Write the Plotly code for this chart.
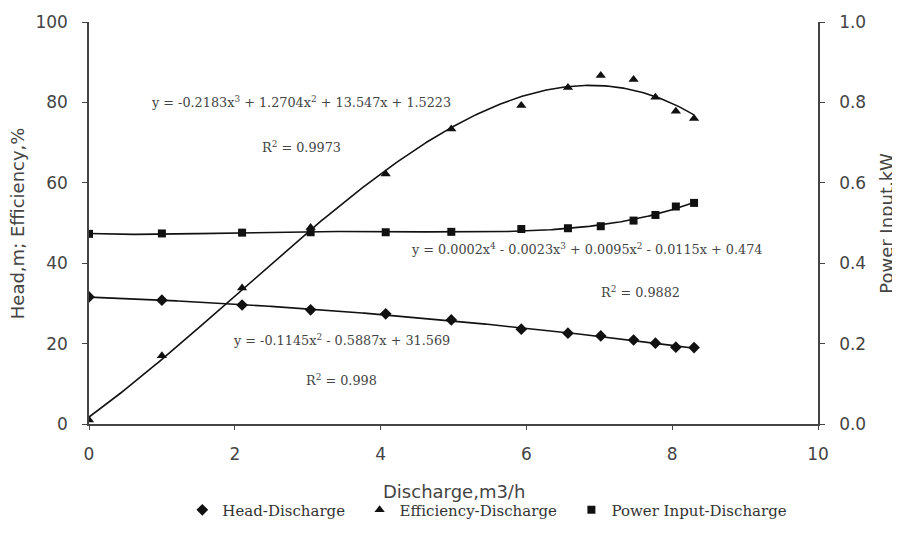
import numpy as np
import plotly.graph_objects as go

# ---- data ----
discharge = [0.0, 1.0, 2.1, 3.04, 4.07, 4.97, 5.93, 6.57, 7.02, 7.47, 7.77, 8.05, 8.30]
head = [31.6, 30.8, 29.6, 28.4, 27.4, 25.9, 23.6, 22.6, 21.9, 20.9, 20.1, 19.1, 19.0]
efficiency = [1.0, 17.0, 33.8, 48.9, 62.2, 73.4, 79.2, 83.7, 86.7, 85.7, 81.3, 77.8, 76.0]
power = [0.473, 0.474, 0.476, 0.477, 0.477, 0.478, 0.485, 0.487, 0.492, 0.506, 0.520, 0.541, 0.550]

left_ticks = [0, 20, 40, 60, 80, 100]
right_ticks = [0.0, 0.2, 0.4, 0.6, 0.8, 1.0]
x_ticks = [0, 2, 4, 6, 8, 10]

eq_eff = "y = -0.2183x<sup>3</sup> + 1.2704x<sup>2</sup> + 13.547x + 1.5223"
r2_eff = "R<sup>2</sup> = 0.9973"
eq_pow = "y = 0.0002x<sup>4</sup> - 0.0023x<sup>3</sup> + 0.0095x<sup>2</sup> - 0.0115x + 0.474"
r2_pow = "R<sup>2</sup> = 0.9882"
eq_head = "y = -0.1145x<sup>2</sup> - 0.5887x + 31.569"
r2_head = "R<sup>2</sup> = 0.998"

# polynomial trend lines fitted to the read data
xs = np.linspace(min(discharge), max(discharge), 300)
fit_head = np.polyval(np.polyfit(discharge, head, 2), xs)
fit_eff = np.polyval(np.polyfit(discharge, efficiency, 3), xs)
fit_pow = np.polyval(np.polyfit(discharge, power, 4), xs)

PAD = "\u00a0\u00a0"
LINE = dict(color="#111111", width=1.6)
fig = go.Figure()
fig.add_trace(go.Scatter(x=xs, y=fit_head, mode="lines", line=LINE, showlegend=False, hoverinfo="skip"))
fig.add_trace(go.Scatter(x=xs, y=fit_eff, mode="lines", line=LINE, showlegend=False, hoverinfo="skip"))
fig.add_trace(go.Scatter(x=xs, y=fit_pow, mode="lines", line=LINE, showlegend=False, hoverinfo="skip", yaxis="y2"))

fig.add_trace(go.Scatter(x=discharge, y=head, mode="markers", name="Head-Discharge" + PAD,
                         marker=dict(symbol="diamond", size=9, color="#111111")))
fig.add_trace(go.Scatter(x=discharge, y=efficiency, mode="markers", name="Efficiency-Discharge" + PAD,
                         marker=dict(symbol="triangle-up", size=9, color="#111111")))
fig.add_trace(go.Scatter(x=discharge, y=power, mode="markers", name="Power Input-Discharge",
                         marker=dict(symbol="square", size=8, color="#111111"), yaxis="y2"))

TICKFONT = dict(family="DejaVu Sans", size=17, color="#444444")
TITLEFONT = dict(family="DejaVu Sans", size=18, color="#444444")
AXCOL = "#444444"
fig.update_layout(
    width=892, height=539,
    margin=dict(l=81, r=82, t=14, b=123, autoexpand=False),
    paper_bgcolor="white", plot_bgcolor="white",
    showlegend=True,
    legend=dict(orientation="h", x=0.128, xanchor="left", y=-0.214, yanchor="middle",
                font=dict(family="DejaVu Serif", size=15, color="#333333"),
                itemwidth=30, tracegroupgap=0),
    xaxis=dict(range=[0, 10], tickvals=x_ticks, showgrid=False, zeroline=False, automargin=False,
               showline=True, linecolor=AXCOL, linewidth=1.5, ticks="outside", ticklen=4,
               tickcolor=AXCOL, tickfont=TICKFONT, ticklabelstandoff=10),
    yaxis=dict(range=[0, 100], tickvals=left_ticks, showgrid=False, zeroline=False, automargin=False,
               showline=True, linecolor=AXCOL, linewidth=1.5, ticks="outside", ticklen=5,
               tickcolor=AXCOL, tickfont=TICKFONT, ticklabelstandoff=11),
    yaxis2=dict(range=[0, 1], tickvals=right_ticks, tickformat=".1f", overlaying="y", side="right",
                showgrid=False, zeroline=False, showline=True, linecolor=AXCOL, linewidth=1.5,
                automargin=False, ticks="outside", ticklen=5, tickcolor=AXCOL, tickfont=TICKFONT,
                ticklabelstandoff=11),
)

# axis titles
fig.add_annotation(xref="paper", yref="paper", x=0.5, y=-0.169, text="Discharge,m3/h",
                   showarrow=False, font=TITLEFONT, xanchor="center", yanchor="middle")
fig.add_annotation(xref="paper", yref="paper", x=-0.0985, y=0.5, text="Head,m; Efficiency,%",
                   showarrow=False, font=TITLEFONT, textangle=-90, xanchor="center", yanchor="middle")
fig.add_annotation(xref="paper", yref="paper", x=1.093, y=0.5, text="Power Input,kW",
                   showarrow=False, font=TITLEFONT, textangle=-90, xanchor="center", yanchor="middle")

ANN = dict(family="DejaVu Serif", size=12.8, color="#444444")
for text, x, y in [(eq_eff, 2.91, 80.1), (r2_eff, 2.91, 68.9),
                   (eq_pow, 6.82, 0.435), (r2_pow, 7.57, 0.328),
                   (eq_head, 3.46, 20.9), (r2_head, 3.47, 10.9)]:
    yref = "y2" if text in (eq_pow, r2_pow) else "y"
    fig.add_annotation(x=x, y=y, xref="x", yref=yref, text=text, showarrow=False, font=ANN)

fig.write_html("out.html")
